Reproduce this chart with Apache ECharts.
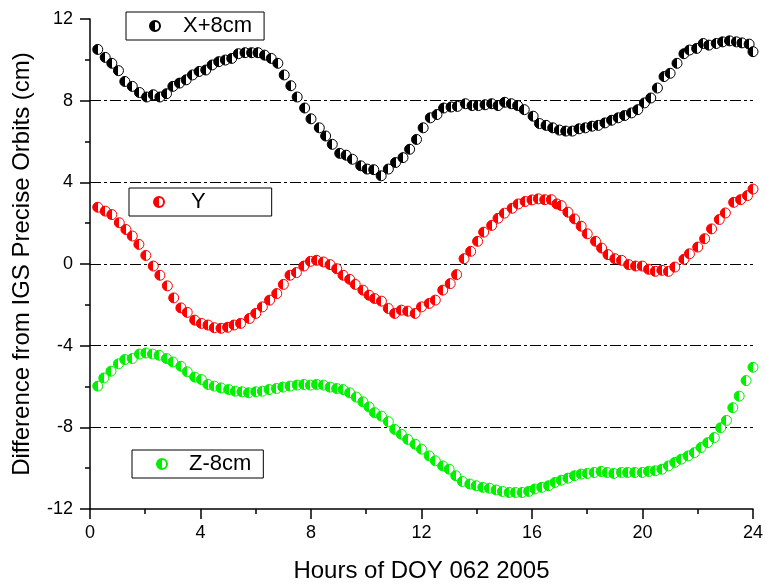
<!DOCTYPE html>
<html>
<head>
<meta charset="utf-8">
<script src="https://cdn.jsdelivr.net/npm/echarts@6/dist/echarts.min.js"></script>
<style>html,body{margin:0;padding:0;background:#fff}#c{width:766px;height:588px}</style>
</head>
<body>
<div id="c"></div>
<script>
var xTicks = [0, 4, 8, 12, 16, 20, 24];
var yTicks = [-12, -8, -4, 0, 4, 8, 12];
var seriesNames = ['X+8cm', 'Y', 'Z-8cm'];

var xHours = [0.28,0.55,0.79,1.03,1.26,1.53,1.79,2.05,2.29,2.53,2.77,3.0,3.24,3.48,3.71,3.95,4.19,4.42,4.66,4.9,5.13,5.37,5.61,5.85,6.08,6.32,6.56,6.8,7.03,7.27,7.5,7.77,8.0,8.3,8.53,8.77,9.04,9.27,9.5,9.8,10.03,10.27,10.54,10.8,11.06,11.33,11.57,11.82,12.06,12.32,12.56,12.8,13.07,13.3,13.59,13.83,14.06,14.3,14.54,14.77,15.01,15.25,15.48,15.72,16.04,16.27,16.51,16.75,16.99,17.22,17.46,17.7,17.93,18.17,18.4,18.64,18.88,19.12,19.35,19.6,19.83,20.07,20.3,20.54,20.78,21.0,21.25,21.5,21.7,21.96,22.2,22.4,22.67,22.9,23.15,23.4,23.6,23.86,24.0];
var xValues = [10.51,10.12,9.83,9.47,8.94,8.70,8.40,8.18,8.29,8.18,8.34,8.70,8.86,9.02,9.26,9.43,9.5,9.75,9.91,9.99,10.07,10.3,10.35,10.35,10.35,10.23,10.07,9.83,9.26,8.73,8.18,7.64,7.11,6.67,6.27,5.86,5.42,5.33,5.13,4.81,4.65,4.62,4.32,4.65,4.97,5.21,5.62,6.1,6.67,7.16,7.32,7.64,7.69,7.72,7.85,7.76,7.76,7.8,7.85,7.76,7.92,7.85,7.76,7.56,7.24,6.88,6.79,6.67,6.56,6.51,6.51,6.62,6.67,6.75,6.79,6.91,7.04,7.16,7.27,7.4,7.56,7.89,8.13,8.62,9.18,9.34,9.83,10.3,10.48,10.56,10.8,10.72,10.8,10.88,10.93,10.88,10.83,10.77,10.4];

var yHours = [0.28,0.55,0.79,1.06,1.3,1.53,1.77,2.02,2.29,2.53,2.8,3.03,3.29,3.52,3.79,4.03,4.27,4.5,4.74,4.98,5.21,5.45,5.77,6.0,6.24,6.5,6.76,7.0,7.24,7.47,7.74,7.98,8.2,8.45,8.69,8.93,9.16,9.4,9.6,9.88,10.1,10.3,10.55,10.8,11.03,11.27,11.5,11.77,12.0,12.28,12.5,12.77,13.04,13.27,13.54,13.78,14.03,14.25,14.54,14.77,15.0,15.28,15.5,15.75,16.0,16.23,16.46,16.7,16.9,17.06,17.3,17.54,17.78,18.0,18.3,18.52,18.75,19.0,19.24,19.5,19.75,19.99,20.22,20.46,20.7,20.94,21.17,21.5,21.7,22.0,22.25,22.5,22.78,23.0,23.3,23.55,23.8,24.0];
var yValues = [2.78,2.59,2.42,2.02,1.69,1.37,0.96,0.42,-0.10,-0.55,-1.07,-1.66,-2.15,-2.37,-2.75,-2.91,-2.99,-3.12,-3.15,-3.10,-2.99,-2.91,-2.67,-2.42,-2.10,-1.77,-1.45,-1.00,-0.55,-0.42,-0.10,0.13,0.18,0.10,-0.03,-0.23,-0.55,-0.75,-1.00,-1.28,-1.53,-1.69,-1.82,-2.18,-2.42,-2.26,-2.31,-2.42,-2.10,-1.93,-1.77,-1.28,-0.96,-0.52,0.26,0.62,1.11,1.56,1.89,2.24,2.49,2.73,2.94,3.06,3.14,3.19,3.15,3.15,2.94,2.86,2.54,2.21,1.85,1.48,1.11,0.78,0.46,0.26,0.18,-0.03,-0.10,-0.10,-0.26,-0.36,-0.31,-0.36,-0.15,0.23,0.50,0.83,1.24,1.72,2.18,2.50,3.02,3.15,3.35,3.67];

var zHours = [0.28,0.5,0.76,1.03,1.26,1.53,1.79,2.02,2.26,2.5,2.77,3.0,3.29,3.52,3.79,4.03,4.27,4.5,4.74,5.02,5.26,5.5,5.74,6.0,6.24,6.48,6.75,6.98,7.24,7.5,7.74,7.98,8.2,8.45,8.69,8.93,9.16,9.4,9.64,9.88,10.1,10.3,10.55,10.8,11.03,11.27,11.5,11.77,12.0,12.28,12.5,12.77,13.0,13.24,13.48,13.75,13.98,14.22,14.46,14.7,14.93,15.17,15.4,15.64,15.88,16.1,16.35,16.6,16.83,17.06,17.3,17.54,17.78,18.0,18.25,18.5,18.72,18.96,19.24,19.46,19.72,19.99,20.22,20.46,20.7,20.94,21.17,21.4,21.65,21.88,22.12,22.36,22.6,22.83,23.04,23.27,23.5,23.75,24.0];
var zValues = [-5.98,-5.58,-5.25,-4.89,-4.68,-4.63,-4.41,-4.36,-4.41,-4.47,-4.63,-4.8,-5.01,-5.28,-5.54,-5.66,-5.9,-5.98,-6.07,-6.15,-6.23,-6.26,-6.31,-6.26,-6.23,-6.15,-6.1,-6.03,-5.98,-5.93,-5.9,-5.93,-5.9,-5.93,-6.03,-6.1,-6.15,-6.31,-6.52,-6.75,-7.0,-7.28,-7.45,-7.72,-8.1,-8.34,-8.59,-8.83,-9.07,-9.4,-9.64,-9.89,-10.05,-10.37,-10.65,-10.78,-10.86,-10.94,-10.98,-11.07,-11.14,-11.19,-11.19,-11.19,-11.14,-11.02,-10.94,-10.86,-10.7,-10.59,-10.49,-10.37,-10.29,-10.26,-10.21,-10.16,-10.21,-10.26,-10.21,-10.21,-10.21,-10.21,-10.16,-10.13,-10.05,-9.89,-9.72,-9.56,-9.4,-9.24,-8.99,-8.75,-8.5,-8.02,-7.66,-7.04,-6.47,-5.71,-5.06];

var FONT = 'Liberation Sans, Arial, sans-serif';

function pairs(h, v) {
  var out = [];
  var n = Math.min(h.length, v.length);
  for (var i = 0; i < n; i++) out.push([h[i], v[i]]);
  return out;
}
function halfFill(c) {
  return new echarts.graphic.LinearGradient(0, 0, 1, 0, [
    {offset: 0, color: c}, {offset: 0.5, color: c},
    {offset: 0.5, color: '#ffffff'}, {offset: 1, color: '#ffffff'}
  ]);
}
function mkSeries(name, h, v, c) {
  return {
    type: 'scatter', name: name, data: pairs(h, v),
    symbol: 'circle', symbolSize: 10,
    itemStyle: {color: halfFill(c), borderColor: c, borderWidth: 1, opacity: 1},
    emphasis: {disabled: true}, animation: false
  };
}
function mkLegend(name, left, top, pad, textPad) {
  return {
    data: [name], left: left, top: top, orient: 'horizontal',
    itemWidth: 10, itemHeight: 10, selectedMode: false,
    borderColor: '#000', borderWidth: 1, borderRadius: 0,
    backgroundColor: '#fff', padding: pad,
    textStyle: {fontSize: 22, fontFamily: FONT, color: '#000', lineHeight: 24, padding: textPad}
  };
}

var chart = echarts.init(document.getElementById('c'), null, {renderer: 'canvas'});
chart.setOption({
  backgroundColor: '#fff',
  animation: false,
  grid: {left: 90, right: 12, top: 19, bottom: 76, containLabel: false},
  legend: [
    mkLegend(seriesNames[0], 126, 12, [2, 12, 2, 23], [0, 0, 0, 18]),
    mkLegend(seriesNames[1], 129, 188, [2, 66, 2, 24], [0, 0, 0, 22]),
    mkLegend(seriesNames[2], 132, 450, [2, 12, 2, 24], [0, 0, 0, 17])
  ],
  xAxis: {
    type: 'value', min: xTicks[0], max: xTicks[xTicks.length - 1], interval: 4,
    name: 'Hours of DOY 062 2005', nameLocation: 'middle', nameGap: 50,
    nameTextStyle: {fontSize: 24, fontFamily: FONT, color: '#000'},
    axisLine: {show: true, onZero: false, lineStyle: {color: '#000', width: 1.5}},
    axisTick: {show: true, inside: false, length: 10, lineStyle: {color: '#000', width: 1.5}},
    minorTick: {show: true, splitNumber: 2, length: 5, lineStyle: {color: '#000', width: 1.5}},
    axisLabel: {fontSize: 18, fontFamily: FONT, color: '#000', margin: 15},
    splitLine: {show: false}
  },
  yAxis: {
    type: 'value', min: yTicks[0], max: yTicks[yTicks.length - 1], interval: 4,
    name: 'Difference from IGS Precise Orbits (cm)', nameLocation: 'middle', nameGap: 56,
    nameTextStyle: {fontSize: 24, fontFamily: FONT, color: '#000'},
    axisLine: {show: true, onZero: false, lineStyle: {color: '#000', width: 1.5}},
    axisTick: {show: true, inside: false, length: 10, lineStyle: {color: '#000', width: 1.5}},
    minorTick: {show: true, splitNumber: 2, length: 5, lineStyle: {color: '#000', width: 1.5}},
    axisLabel: {fontSize: 18, fontFamily: FONT, color: '#000', margin: 17},
    splitLine: {show: true, showMinLine: false, showMaxLine: false,
      lineStyle: {color: '#000', width: 1.2, type: [11, 3, 3, 3]}}
  },
  series: [
    mkSeries(seriesNames[0], xHours, xValues, '#000000'),
    mkSeries(seriesNames[1], yHours, yValues, '#ff0000'),
    mkSeries(seriesNames[2], zHours, zValues, '#00f000')
  ]
});
</script>
</body>
</html>
